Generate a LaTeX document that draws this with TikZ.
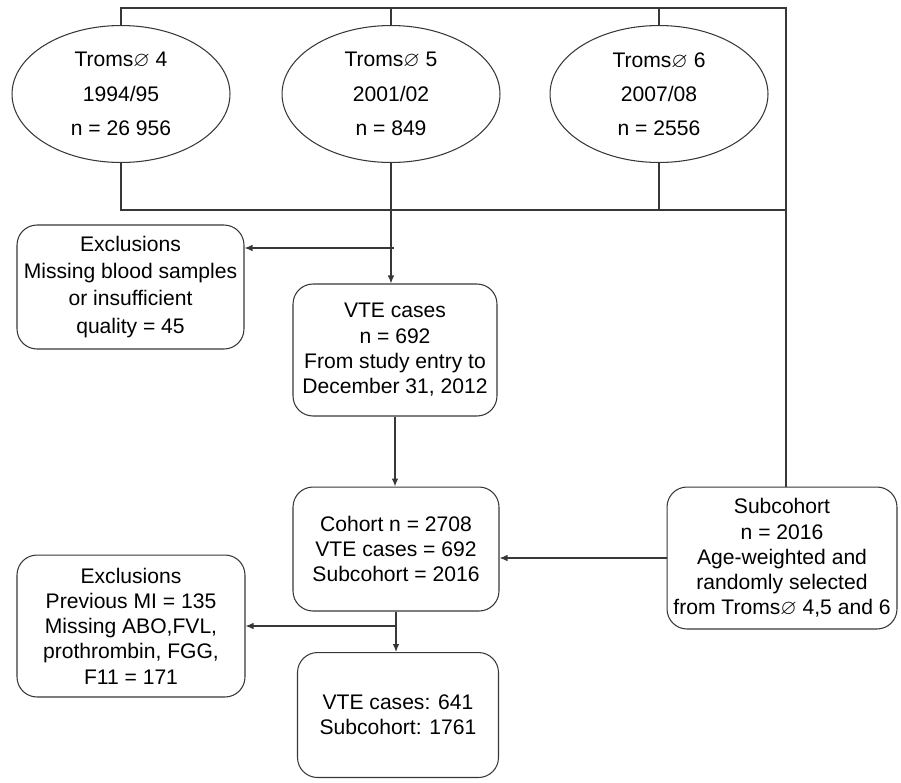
\documentclass[tikz,border=0pt]{standalone}
\usepackage{fontspec}
\setmainfont{Liberation Sans}
\usepackage{amssymb}
\usepackage{tikz}
\usetikzlibrary{arrows.meta, shapes.geometric}
\definecolor{linec}{RGB}{55,55,55}
\newcommand{\tromso}{Troms$\varnothing$}

\begin{document}
\begin{tikzpicture}[x=0.02cm, y=-0.02cm, line width=0.6pt,
  wave/.style={ellipse, draw=linec, inner sep=0pt, minimum width=4.36cm,
    minimum height=2.74cm, align=center, font=\fontsize{12}{19.5}\selectfont},
  box/.style={draw=linec, rounded corners=0.4cm, inner sep=0pt, align=center,
    font=\fontsize{12}{14.4}\selectfont},
  arr/.style={-{Latex[length=1.6mm, width=1.3mm]}, draw=linec}]
  \useasboundingbox (0,0) rectangle (901,782);
  % the three surveys
  \node[wave] (t4) at (121,94) {\tromso\ 4\\1994/95\\n = 26 956};
  \node[wave] (t5) at (391,94) {\tromso\ 5\\2001/02\\n = 849};
  \node[wave] (t6) at (659,94) {\tromso\ 6\\2007/08\\n = 2556};
  % boxes
  \node[box, font=\fontsize{12}{15.4}\selectfont, minimum width=4.54cm,
    minimum height=2.48cm] (excl1) at (130.5,287)
    {Exclusions\\Missing blood samples\\or insufficient\\quality = 45};
  \node[box, minimum width=4.08cm, minimum height=2.64cm] (vte) at (395,350)
    {VTE cases\\n = 692\\From study entry to\\December 31, 2012};
  \node[box, minimum width=4.12cm, minimum height=2.48cm] (cohort) at (396,549)
    {Cohort n = 2708\\VTE cases = 692\\Subcohort = 2016};
  \node[box, minimum width=4.6cm, minimum height=2.84cm] (sub) at (782,558)
    {Subcohort\\n = 2016\\Age-weighted and\\randomly selected\\from \tromso\ 4,5 and 6};
  \node[box, minimum width=4.56cm, minimum height=2.84cm] (excl2) at (131,626)
    {Exclusions\\Previous MI = 135\\Missing ABO,FVL,\\prothrombin, FGG,\\F11 = 171};
  \node[box, minimum width=4.02cm, minimum height=2.5cm] (final) at (398,715)
    {VTE cases: 641\\Subcohort: 1761};
  % frame round the surveys
  \coordinate (tl) at (120,8);
  \coordinate (tr) at (786,8);
  \coordinate (bl) at (120,210);
  \coordinate (br) at (786,210);
  \draw[linec] (t4.north) -- (t4.north |- tl) -- (tr) -- (tr |- sub.north);
  \draw[linec] (t5.north) -- (t5.north |- tl);
  \draw[linec] (t6.north) -- (t6.north |- tl);
  \draw[linec] (t4.south) -- (t4.south |- bl) -- (br);
  \draw[linec] (t6.south) -- (t6.south |- bl);
  % flow
  \coordinate (b1) at (394,248);
  \draw[arr] (t5.south) -- (t5.south |- vte.north);
  \draw[arr] (b1) -- (b1 -| excl1.east);
  \draw[arr] (vte.south) -- (vte.south |- cohort.north);
  \draw[arr] (sub.west) -- (sub.west -| cohort.east);
  \coordinate (b2) at (cohort.south |- excl2.east);
  \draw[arr] (cohort.south) -- (cohort.south |- final.north);
  \draw[arr] (b2) -- (excl2.east);
\end{tikzpicture}
\end{document}
